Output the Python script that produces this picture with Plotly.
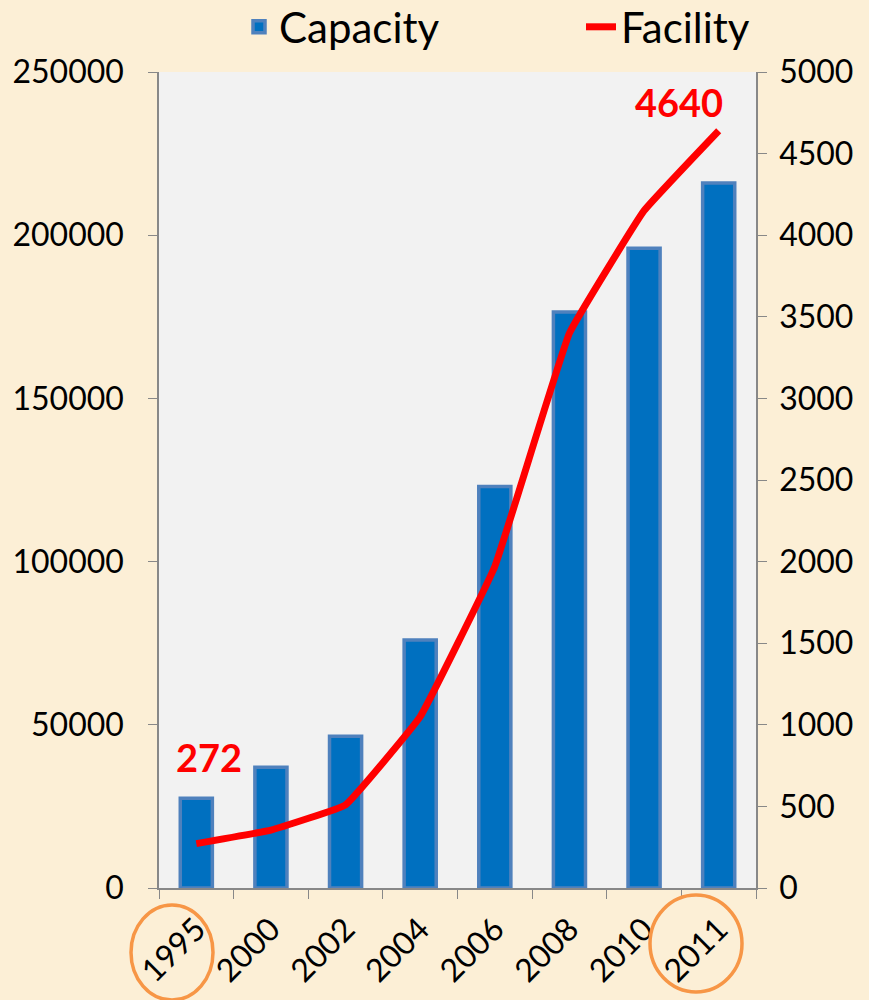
import plotly.graph_objects as go

years = ["1995", "2000", "2002", "2004", "2006", "2008", "2010", "2011"]
capacity = [27500, 37000, 46500, 76000, 123000, 176500, 196000, 216000]
facility = [272, 355, 510, 1050, 1970, 3400, 4150, 4640]

fig = go.Figure()
fig.add_trace(go.Bar(
    x=years, y=capacity, name="Capacity", legend="legend",
    marker=dict(color="#0070c0", line=dict(color="#4f81bd", width=3.5)),
))
fig.add_trace(go.Scatter(
    x=years, y=facility, name="Facility", yaxis="y2", mode="lines", legend="legend2",
    line=dict(color="#ff0000", width=7, shape="spline", smoothing=0.25),
))

n = len(years)
fig.add_annotation(x=0, y=facility[0], xref="x", yref="y2",
                   text="<b>%d</b>" % facility[0], showarrow=False, xshift=13, yshift=87,
                   font=dict(family="Lato", size=38, color="#ff0000"))
fig.add_annotation(x=n - 1, y=facility[-1], xref="x", yref="y2",
                   text="<b>%d</b>" % facility[-1], showarrow=False, xshift=-40, yshift=29,
                   font=dict(family="Lato", size=38, color="#ff0000"))

# orange ellipses around first and last year labels
fig.add_shape(type="circle", xref="paper", yref="paper",
              x0=(131 - 159) / 597, x1=(213 - 159) / 597,
              y0=-(1000 - 888) / 816, y1=-(905 - 888) / 816,
              line=dict(color="#f79646", width=3.5))
fig.add_shape(type="circle", xref="paper", yref="paper",
              x0=(650 - 159) / 597, x1=(742 - 159) / 597,
              y0=-(992 - 888) / 816, y1=-(895 - 888) / 816,
              line=dict(color="#f79646", width=3.5))

axis_font = dict(family="Lato", size=32, color="#000000")
legend_font = dict(family="Lato", size=42, color="#000000")
fig.update_layout(
    width=869, height=1000,
    margin=dict(l=159, r=113, t=72, b=112, autoexpand=False),
    paper_bgcolor="#fcefd6",
    plot_bgcolor="#f2f2f2",
    bargap=0.57,
    showlegend=True,
    legend=dict(orientation="h", xref="container", yref="container",
                x=239 / 869, xanchor="left", y=1 - 27 / 1000, yanchor="middle",
                font=legend_font, bgcolor="rgba(0,0,0,0)"),
    legend2=dict(orientation="h", xref="container", yref="container",
                 x=581 / 869, xanchor="left", y=1 - 27 / 1000, yanchor="middle",
                 font=legend_font, bgcolor="rgba(0,0,0,0)"),
    xaxis=dict(type="category", range=[-0.5, n - 0.5], tickangle=-45,
               tickfont=axis_font,
               showline=True, linecolor="#888888", linewidth=1.5,
               ticks="outside", tickson="boundaries", ticklen=9, tickcolor="#888888",
               showgrid=False, ticklabelstandoff=8),
    yaxis=dict(range=[0, 250000], dtick=50000, tickformat="d", tickfont=axis_font,
               showline=True, linecolor="#888888", linewidth=1.5,
               ticks="outside", ticklen=9, tickcolor="#888888",
               showgrid=False, zeroline=False, ticklabelstandoff=18),
    yaxis2=dict(range=[0, 5000], dtick=500, tickformat="d", overlaying="y", side="right",
                tickfont=axis_font,
                showline=True, linecolor="#888888", linewidth=1.5,
                ticks="outside", ticklen=9, tickcolor="#888888",
                showgrid=False, zeroline=False, ticklabelstandoff=6),
)

fig.write_html("out.html")
